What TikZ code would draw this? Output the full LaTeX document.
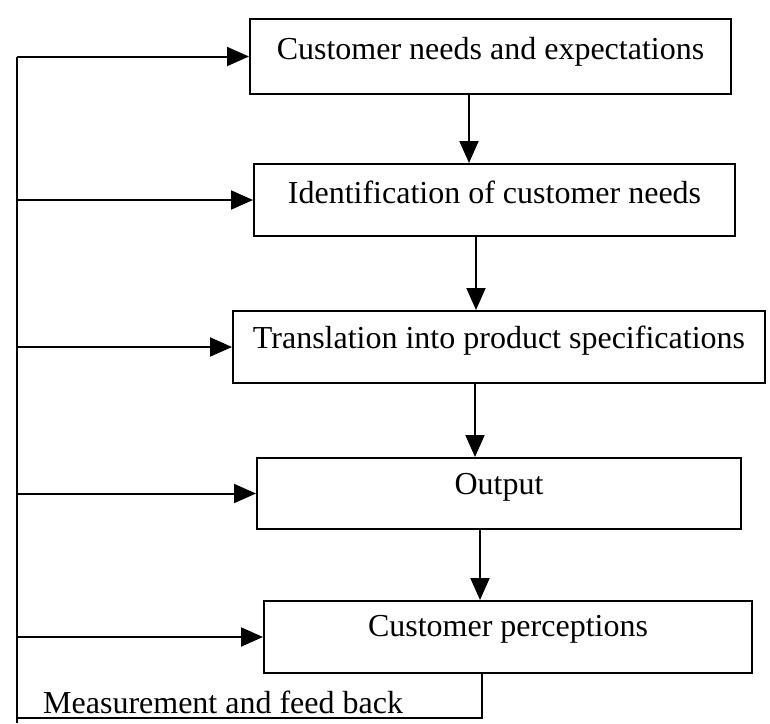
\documentclass[tikz,border=0pt]{standalone}
\usepackage{fontspec}
\setmainfont{Liberation Serif}
\usetikzlibrary{arrows.meta}
\begin{document}
\begin{tikzpicture}[x=1pt,y=-1pt,
  box/.style={draw,line width=2pt,rectangle,inner sep=0pt,anchor=north west,
    font=\fontsize{32}{38}\selectfont},
  flow/.style={line width=2pt,-{Triangle[length=22pt,width=19pt]}},
  link/.style={line width=2pt}]
\useasboundingbox (0,0) rectangle (770,723);

% process boxes
\node[box,minimum width=481pt,minimum height=75pt,text height=40pt,text depth=35pt]
  (B1) at (249,18) {Customer needs and expectations};
\node[box,minimum width=481pt,minimum height=72pt,text height=39pt,text depth=33pt]
  (B2) at (253,163) {Identification of customer needs};
\node[box,minimum width=532pt,minimum height=72pt,text height=37pt,text depth=35pt]
  (B3) at (232,310) {Translation into product specifications};
\node[box,minimum width=484pt,minimum height=71pt,text height=36pt,text depth=35pt]
  (B4) at (256,457) {Output};
\node[box,minimum width=488pt,minimum height=72pt,text height=35pt,text depth=37pt]
  (B5) at (263,600) {Customer perceptions};

\node[anchor=base west,inner sep=0pt,font=\fontsize{32}{38}\selectfont]
  (MF) at (43,713) {Measurement and feed back};

% guide coordinates for the connectors
\coordinate (sp) at (17,0);
\coordinate (a12) at (469,0);
\coordinate (a23) at (476,0);
\coordinate (a34) at (475,0);
\coordinate (a45) at (480,0);
\coordinate (br) at (482,718);
\coordinate (bl) at (17,718);
\coordinate (bend) at (17,723);

% main flow
\draw[flow] (B1.south -| a12) -- (B2.north -| a12);
\draw[flow] (B2.south -| a23) -- (B3.north -| a23);
\draw[flow] (B3.south -| a34) -- (B4.north -| a34);
\draw[flow] (B4.south -| a45) -- (B5.north -| a45);

% feedback loop
\draw[link] (B5.south -| br) -- (br) -- (bl);
\draw[link] (bend) -- (B1.west -| sp);
\foreach \b in {B1,B2,B3,B4,B5}
  \draw[flow] (\b.west -| sp) -- (\b.west);
\end{tikzpicture}
\end{document}
